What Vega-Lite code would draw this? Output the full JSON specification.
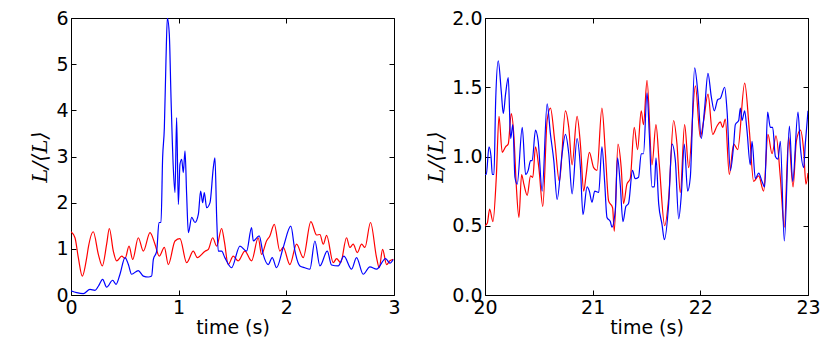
{
  "$schema": "https://vega.github.io/schema/vega-lite/v6.json",
  "background": "white",
  "padding": {"left": 29, "top": 8, "right": 4, "bottom": 4},
  "config": {
    "view": {"stroke": "black", "strokeWidth": 1},
    "axis": {
      "domain": false, "grid": false, "ticks": true, "tickColor": "black", "tickSize": -5, "tickWidth": 1,
      "labelFont": "DejaVu Sans", "labelFontSize": 19, "labelColor": "black", "labelPadding": 8,
      "labelFlush": false, "labelOverlap": false,
      "titleFont": "DejaVu Sans", "titleFontSize": 19, "titleFontWeight": "normal", "titleColor": "black"
    }
  },
  "datasets": {
    "left": [
      {"t":0.000,"v":1.37,"s":"r"},{"t":0.037,"v":1.24,"s":"r"},{"t":0.068,"v":0.81,"s":"r"},{"t":0.105,"v":0.41,"s":"r"},{"t":0.146,"v":0.81,"s":"r"},{"t":0.161,"v":1.03,"s":"r"},{"t":0.207,"v":1.37,"s":"r"},{"t":0.254,"v":0.88,"s":"r"},{"t":0.291,"v":0.63,"s":"r"},{"t":0.331,"v":1.10,"s":"r"},{"t":0.356,"v":1.44,"s":"r"},{"t":0.393,"v":0.95,"s":"r"},{"t":0.424,"v":0.74,"s":"r"},{"t":0.471,"v":0.84,"s":"r"},{"t":0.502,"v":0.79,"s":"r"},{"t":0.539,"v":1.06,"s":"r"},{"t":0.573,"v":0.77,"s":"r"},{"t":0.625,"v":1.24,"s":"r"},{"t":0.672,"v":0.95,"s":"r"},{"t":0.734,"v":1.35,"s":"r"},{"t":0.780,"v":1.10,"s":"r"},{"t":0.820,"v":0.84,"s":"r"},{"t":0.867,"v":1.03,"s":"r"},{"t":0.904,"v":0.66,"s":"r"},{"t":0.966,"v":1.17,"s":"r"},{"t":1.012,"v":1.22,"s":"r"},{"t":1.074,"v":0.70,"s":"r"},{"t":1.136,"v":0.95,"s":"r"},{"t":1.173,"v":0.81,"s":"r"},{"t":1.245,"v":0.95,"s":"r"},{"t":1.276,"v":0.99,"s":"r"},{"t":1.316,"v":1.24,"s":"r"},{"t":1.353,"v":1.06,"s":"r"},{"t":1.399,"v":1.44,"s":"r"},{"t":1.425,"v":1.15,"s":"r"},{"t":1.460,"v":0.66,"s":"r"},{"t":1.507,"v":0.84,"s":"r"},{"t":1.553,"v":0.74,"s":"r"},{"t":1.615,"v":0.95,"s":"r"},{"t":1.677,"v":0.74,"s":"r"},{"t":1.739,"v":1.24,"s":"r"},{"t":1.770,"v":0.88,"s":"r"},{"t":1.816,"v":1.17,"s":"r"},{"t":1.847,"v":1.28,"s":"r"},{"t":1.888,"v":1.53,"s":"r"},{"t":1.940,"v":0.95,"s":"r"},{"t":1.971,"v":1.03,"s":"r"},{"t":2.033,"v":0.66,"s":"r"},{"t":2.095,"v":1.10,"s":"r"},{"t":2.157,"v":0.81,"s":"r"},{"t":2.228,"v":1.59,"s":"r"},{"t":2.281,"v":1.30,"s":"r"},{"t":2.312,"v":1.31,"s":"r"},{"t":2.343,"v":1.10,"s":"r"},{"t":2.374,"v":1.29,"s":"r"},{"t":2.436,"v":0.70,"s":"r"},{"t":2.467,"v":0.79,"s":"r"},{"t":2.504,"v":0.70,"s":"r"},{"t":2.559,"v":1.24,"s":"r"},{"t":2.590,"v":1.03,"s":"r"},{"t":2.621,"v":1.10,"s":"r"},{"t":2.659,"v":0.92,"s":"r"},{"t":2.699,"v":1.10,"s":"r"},{"t":2.730,"v":1.03,"s":"r"},{"t":2.782,"v":1.57,"s":"r"},{"t":2.838,"v":0.81,"s":"r"},{"t":2.863,"v":0.59,"s":"r"},{"t":2.894,"v":0.99,"s":"r"},{"t":2.931,"v":0.66,"s":"r"},{"t":2.962,"v":0.74,"s":"r"},{"t":2.993,"v":0.77,"s":"r"},
      {"t":0.000,"v":0.09,"s":"b"},{"t":0.053,"v":0.05,"s":"b"},{"t":0.115,"v":0.03,"s":"b"},{"t":0.176,"v":0.12,"s":"b"},{"t":0.223,"v":0.10,"s":"b"},{"t":0.254,"v":0.19,"s":"b"},{"t":0.294,"v":0.34,"s":"b"},{"t":0.331,"v":0.17,"s":"b"},{"t":0.387,"v":0.32,"s":"b"},{"t":0.418,"v":0.23,"s":"b"},{"t":0.455,"v":0.45,"s":"b"},{"t":0.502,"v":0.81,"s":"b"},{"t":0.533,"v":0.66,"s":"b"},{"t":0.563,"v":0.45,"s":"b"},{"t":0.625,"v":0.53,"s":"b"},{"t":0.672,"v":0.41,"s":"b"},{"t":0.718,"v":0.39,"s":"b"},{"t":0.749,"v":0.41,"s":"b"},{"t":0.765,"v":0.77,"s":"b"},{"t":0.796,"v":0.95,"s":"b"},{"t":0.817,"v":1.57,"s":"b"},{"t":0.836,"v":1.57,"s":"b"},{"t":0.851,"v":2.97,"s":"b"},{"t":0.867,"v":3.62,"s":"b"},{"t":0.882,"v":5.07,"s":"b"},{"t":0.895,"v":6.00,"s":"b"},{"t":0.913,"v":5.65,"s":"b"},{"t":0.929,"v":4.27,"s":"b"},{"t":0.950,"v":2.76,"s":"b"},{"t":0.966,"v":2.22,"s":"b"},{"t":0.981,"v":3.84,"s":"b"},{"t":0.997,"v":1.96,"s":"b"},{"t":1.012,"v":2.83,"s":"b"},{"t":1.028,"v":2.94,"s":"b"},{"t":1.043,"v":2.65,"s":"b"},{"t":1.059,"v":3.12,"s":"b"},{"t":1.074,"v":2.18,"s":"b"},{"t":1.090,"v":1.35,"s":"b"},{"t":1.121,"v":1.68,"s":"b"},{"t":1.152,"v":1.57,"s":"b"},{"t":1.183,"v":1.75,"s":"b"},{"t":1.204,"v":2.25,"s":"b"},{"t":1.223,"v":2.00,"s":"b"},{"t":1.238,"v":2.22,"s":"b"},{"t":1.260,"v":1.89,"s":"b"},{"t":1.291,"v":2.00,"s":"b"},{"t":1.322,"v":2.76,"s":"b"},{"t":1.337,"v":2.97,"s":"b"},{"t":1.353,"v":1.68,"s":"b"},{"t":1.368,"v":0.95,"s":"b"},{"t":1.399,"v":0.95,"s":"b"},{"t":1.429,"v":0.81,"s":"b"},{"t":1.491,"v":0.59,"s":"b"},{"t":1.569,"v":1.06,"s":"b"},{"t":1.631,"v":0.95,"s":"b"},{"t":1.677,"v":1.46,"s":"b"},{"t":1.693,"v":1.17,"s":"b"},{"t":1.748,"v":1.28,"s":"b"},{"t":1.785,"v":0.88,"s":"b"},{"t":1.832,"v":0.66,"s":"b"},{"t":1.869,"v":0.81,"s":"b"},{"t":1.909,"v":0.59,"s":"b"},{"t":1.971,"v":1.03,"s":"b"},{"t":2.042,"v":1.49,"s":"b"},{"t":2.080,"v":0.95,"s":"b"},{"t":2.126,"v":0.63,"s":"b"},{"t":2.172,"v":0.59,"s":"b"},{"t":2.219,"v":0.56,"s":"b"},{"t":2.265,"v":1.17,"s":"b"},{"t":2.312,"v":0.63,"s":"b"},{"t":2.380,"v":0.95,"s":"b"},{"t":2.420,"v":0.65,"s":"b"},{"t":2.482,"v":0.63,"s":"b"},{"t":2.535,"v":0.84,"s":"b"},{"t":2.606,"v":0.56,"s":"b"},{"t":2.652,"v":0.81,"s":"b"},{"t":2.714,"v":0.45,"s":"b"},{"t":2.776,"v":0.61,"s":"b"},{"t":2.838,"v":0.56,"s":"b"},{"t":2.922,"v":0.79,"s":"b"},{"t":2.962,"v":0.69,"s":"b"},{"t":2.993,"v":0.77,"s":"b"}
    ],
    "right": [
      {"t":20.000,"v":0.50,"s":"r"},{"t":20.022,"v":0.52,"s":"r"},{"t":20.043,"v":0.62,"s":"r"},{"t":20.074,"v":0.53,"s":"r"},{"t":20.105,"v":0.85,"s":"r"},{"t":20.130,"v":1.29,"s":"r"},{"t":20.160,"v":1.03,"s":"r"},{"t":20.191,"v":1.07,"s":"r"},{"t":20.216,"v":1.09,"s":"r"},{"t":20.244,"v":1.31,"s":"r"},{"t":20.269,"v":1.14,"s":"r"},{"t":20.290,"v":0.80,"s":"r"},{"t":20.315,"v":0.56,"s":"r"},{"t":20.340,"v":0.87,"s":"r"},{"t":20.361,"v":0.80,"s":"r"},{"t":20.392,"v":0.72,"s":"r"},{"t":20.423,"v":0.86,"s":"r"},{"t":20.444,"v":0.85,"s":"r"},{"t":20.469,"v":1.07,"s":"r"},{"t":20.500,"v":0.92,"s":"r"},{"t":20.537,"v":0.64,"s":"r"},{"t":20.577,"v":1.26,"s":"r"},{"t":20.608,"v":1.35,"s":"r"},{"t":20.648,"v":1.11,"s":"r"},{"t":20.691,"v":0.82,"s":"r"},{"t":20.747,"v":1.33,"s":"r"},{"t":20.778,"v":1.21,"s":"r"},{"t":20.809,"v":0.94,"s":"r"},{"t":20.855,"v":1.29,"s":"r"},{"t":20.886,"v":1.09,"s":"r"},{"t":20.917,"v":0.75,"s":"r"},{"t":20.938,"v":0.86,"s":"r"},{"t":20.969,"v":1.03,"s":"r"},{"t":21.009,"v":0.92,"s":"r"},{"t":21.040,"v":0.90,"s":"r"},{"t":21.086,"v":1.35,"s":"r"},{"t":21.117,"v":1.04,"s":"r"},{"t":21.148,"v":0.68,"s":"r"},{"t":21.185,"v":0.63,"s":"r"},{"t":21.201,"v":0.46,"s":"r"},{"t":21.235,"v":1.09,"s":"r"},{"t":21.265,"v":0.92,"s":"r"},{"t":21.287,"v":0.66,"s":"r"},{"t":21.318,"v":0.80,"s":"r"},{"t":21.349,"v":0.84,"s":"r"},{"t":21.386,"v":1.21,"s":"r"},{"t":21.417,"v":1.05,"s":"r"},{"t":21.451,"v":1.33,"s":"r"},{"t":21.472,"v":1.23,"s":"r"},{"t":21.505,"v":1.55,"s":"r"},{"t":21.551,"v":0.94,"s":"r"},{"t":21.588,"v":1.23,"s":"r"},{"t":21.619,"v":0.94,"s":"r"},{"t":21.669,"v":0.50,"s":"r"},{"t":21.706,"v":0.70,"s":"r"},{"t":21.752,"v":1.26,"s":"r"},{"t":21.783,"v":1.09,"s":"r"},{"t":21.814,"v":0.74,"s":"r"},{"t":21.854,"v":1.23,"s":"r"},{"t":21.892,"v":0.92,"s":"r"},{"t":21.954,"v":1.51,"s":"r"},{"t":22.000,"v":1.14,"s":"r"},{"t":22.031,"v":1.26,"s":"r"},{"t":22.071,"v":1.45,"s":"r"},{"t":22.115,"v":1.16,"s":"r"},{"t":22.155,"v":1.22,"s":"r"},{"t":22.186,"v":1.25,"s":"r"},{"t":22.207,"v":1.21,"s":"r"},{"t":22.232,"v":1.27,"s":"r"},{"t":22.269,"v":0.87,"s":"r"},{"t":22.310,"v":1.09,"s":"r"},{"t":22.347,"v":1.05,"s":"r"},{"t":22.412,"v":1.53,"s":"r"},{"t":22.455,"v":1.19,"s":"r"},{"t":22.495,"v":0.82,"s":"r"},{"t":22.542,"v":0.86,"s":"r"},{"t":22.588,"v":0.75,"s":"r"},{"t":22.628,"v":1.16,"s":"r"},{"t":22.666,"v":1.02,"s":"r"},{"t":22.703,"v":1.15,"s":"r"},{"t":22.743,"v":0.85,"s":"r"},{"t":22.780,"v":0.49,"s":"r"},{"t":22.820,"v":1.14,"s":"r"},{"t":22.861,"v":0.78,"s":"r"},{"t":22.892,"v":1.11,"s":"r"},{"t":22.929,"v":1.19,"s":"r"},{"t":22.960,"v":1.04,"s":"r"},{"t":22.981,"v":0.80,"s":"r"},{"t":23.000,"v":0.88,"s":"r"},
      {"t":20.000,"v":0.87,"s":"b"},{"t":20.012,"v":0.87,"s":"b"},{"t":20.037,"v":1.07,"s":"b"},{"t":20.056,"v":1.00,"s":"b"},{"t":20.068,"v":0.87,"s":"b"},{"t":20.083,"v":0.87,"s":"b"},{"t":20.099,"v":1.40,"s":"b"},{"t":20.123,"v":1.69,"s":"b"},{"t":20.151,"v":1.47,"s":"b"},{"t":20.170,"v":1.31,"s":"b"},{"t":20.191,"v":1.45,"s":"b"},{"t":20.216,"v":1.57,"s":"b"},{"t":20.238,"v":1.13,"s":"b"},{"t":20.259,"v":1.23,"s":"b"},{"t":20.278,"v":0.85,"s":"b"},{"t":20.299,"v":0.80,"s":"b"},{"t":20.346,"v":1.21,"s":"b"},{"t":20.377,"v":0.87,"s":"b"},{"t":20.401,"v":0.90,"s":"b"},{"t":20.423,"v":0.97,"s":"b"},{"t":20.438,"v":0.97,"s":"b"},{"t":20.469,"v":1.19,"s":"b"},{"t":20.494,"v":1.11,"s":"b"},{"t":20.531,"v":0.75,"s":"b"},{"t":20.577,"v":1.38,"s":"b"},{"t":20.608,"v":1.16,"s":"b"},{"t":20.639,"v":0.97,"s":"b"},{"t":20.670,"v":0.69,"s":"b"},{"t":20.716,"v":1.02,"s":"b"},{"t":20.747,"v":1.16,"s":"b"},{"t":20.778,"v":1.02,"s":"b"},{"t":20.809,"v":0.73,"s":"b"},{"t":20.855,"v":1.13,"s":"b"},{"t":20.886,"v":0.92,"s":"b"},{"t":20.910,"v":0.58,"s":"b"},{"t":20.948,"v":0.78,"s":"b"},{"t":20.969,"v":0.75,"s":"b"},{"t":20.994,"v":0.67,"s":"b"},{"t":21.019,"v":0.75,"s":"b"},{"t":21.056,"v":0.74,"s":"b"},{"t":21.086,"v":1.07,"s":"b"},{"t":21.111,"v":0.82,"s":"b"},{"t":21.133,"v":0.56,"s":"b"},{"t":21.164,"v":0.53,"s":"b"},{"t":21.179,"v":0.49,"s":"b"},{"t":21.210,"v":0.61,"s":"b"},{"t":21.231,"v":0.99,"s":"b"},{"t":21.256,"v":0.80,"s":"b"},{"t":21.281,"v":0.53,"s":"b"},{"t":21.309,"v":0.64,"s":"b"},{"t":21.333,"v":0.66,"s":"b"},{"t":21.370,"v":0.90,"s":"b"},{"t":21.395,"v":0.84,"s":"b"},{"t":21.426,"v":0.85,"s":"b"},{"t":21.451,"v":1.02,"s":"b"},{"t":21.472,"v":1.02,"s":"b"},{"t":21.505,"v":1.46,"s":"b"},{"t":21.526,"v":1.16,"s":"b"},{"t":21.551,"v":0.78,"s":"b"},{"t":21.573,"v":0.78,"s":"b"},{"t":21.588,"v":0.99,"s":"b"},{"t":21.613,"v":0.66,"s":"b"},{"t":21.644,"v":0.51,"s":"b"},{"t":21.666,"v":0.40,"s":"b"},{"t":21.706,"v":0.66,"s":"b"},{"t":21.737,"v":1.09,"s":"b"},{"t":21.768,"v":0.97,"s":"b"},{"t":21.799,"v":0.55,"s":"b"},{"t":21.824,"v":0.73,"s":"b"},{"t":21.851,"v":1.09,"s":"b"},{"t":21.882,"v":0.75,"s":"b"},{"t":21.907,"v":0.85,"s":"b"},{"t":21.947,"v":1.64,"s":"b"},{"t":21.978,"v":1.45,"s":"b"},{"t":22.009,"v":1.13,"s":"b"},{"t":22.040,"v":1.35,"s":"b"},{"t":22.071,"v":1.60,"s":"b"},{"t":22.102,"v":1.43,"s":"b"},{"t":22.130,"v":1.33,"s":"b"},{"t":22.161,"v":1.41,"s":"b"},{"t":22.186,"v":1.42,"s":"b"},{"t":22.226,"v":1.50,"s":"b"},{"t":22.248,"v":1.33,"s":"b"},{"t":22.279,"v":0.90,"s":"b"},{"t":22.310,"v":1.09,"s":"b"},{"t":22.325,"v":1.23,"s":"b"},{"t":22.356,"v":1.26,"s":"b"},{"t":22.372,"v":1.35,"s":"b"},{"t":22.387,"v":1.26,"s":"b"},{"t":22.412,"v":1.33,"s":"b"},{"t":22.433,"v":1.19,"s":"b"},{"t":22.464,"v":0.94,"s":"b"},{"t":22.480,"v":1.11,"s":"b"},{"t":22.511,"v":0.84,"s":"b"},{"t":22.542,"v":0.88,"s":"b"},{"t":22.573,"v":0.82,"s":"b"},{"t":22.598,"v":0.78,"s":"b"},{"t":22.625,"v":1.32,"s":"b"},{"t":22.650,"v":1.21,"s":"b"},{"t":22.672,"v":1.21,"s":"b"},{"t":22.697,"v":1.00,"s":"b"},{"t":22.721,"v":0.98,"s":"b"},{"t":22.743,"v":1.11,"s":"b"},{"t":22.780,"v":0.39,"s":"b"},{"t":22.827,"v":1.22,"s":"b"},{"t":22.858,"v":0.82,"s":"b"},{"t":22.907,"v":1.32,"s":"b"},{"t":22.929,"v":1.07,"s":"b"},{"t":22.960,"v":0.92,"s":"b"},{"t":22.975,"v":1.09,"s":"b"},{"t":23.000,"v":1.33,"s":"b"}
    ]
  },
  "bounds": "flush",
  "spacing": 91,
  "hconcat": [
    {
      "data": {"name": "left"},
      "width": 323, "height": 277,
      "layer": [
        {
          "mark": {"type": "line", "strokeWidth": 1.2, "clip": true, "interpolate": "monotone"},
          "encoding": {
            "x": {"field": "t", "type": "quantitative", "scale": {"domain": [0, 3], "nice": false}, "axis": {"values": [0, 1, 2, 3], "format": "d", "title": "time (s)", "titlePadding": 1, "labelFontSize": 19, "titleFontSize": 19}},
            "y": {"field": "v", "type": "quantitative", "scale": {"domain": [0, 6], "nice": false}, "axis": {"values": [0, 1, 2, 3, 4, 5, 6], "format": "d", "title": "L/⟨L⟩", "titleFont": "DejaVu Serif", "titleFontStyle": "italic", "titlePadding": 5, "labelFontSize": 19, "titleFontSize": 21}},
            "color": {"field": "s", "type": "nominal", "scale": {"domain": ["r", "b"], "range": ["#ff0000", "#0000ff"]}, "legend": null}
          }
        },
        {
          "mark": {"type": "line", "opacity": 0},
          "encoding": {
            "x": {"field": "t", "type": "quantitative", "axis": {"orient": "top", "values": [0, 1, 2, 3], "labels": false, "title": null}},
            "y": {"field": "v", "type": "quantitative", "axis": {"orient": "right", "values": [0, 1, 2, 3, 4, 5, 6], "labels": false, "title": null}}
          }
        }
      ],
      "resolve": {"axis": {"x": "independent", "y": "independent"}}
    },
    {
      "data": {"name": "right"},
      "width": 323, "height": 277,
      "layer": [
        {
          "mark": {"type": "line", "strokeWidth": 1.2, "clip": true, "interpolate": "monotone"},
          "encoding": {
            "x": {"field": "t", "type": "quantitative", "scale": {"domain": [20, 23], "nice": false, "zero": false}, "axis": {"values": [20, 21, 22, 23], "format": "d", "title": "time (s)", "titlePadding": 1, "labelFontSize": 19, "titleFontSize": 19}},
            "y": {"field": "v", "type": "quantitative", "scale": {"domain": [0, 2], "nice": false}, "axis": {"values": [0, 0.5, 1, 1.5, 2], "format": ".1f", "title": "L/⟨L⟩", "titleFont": "DejaVu Serif", "titleFontStyle": "italic", "titlePadding": 5, "labelFontSize": 19, "titleFontSize": 21}},
            "color": {"field": "s", "type": "nominal", "scale": {"domain": ["r", "b"], "range": ["#ff0000", "#0000ff"]}, "legend": null}
          }
        },
        {
          "mark": {"type": "line", "opacity": 0},
          "encoding": {
            "x": {"field": "t", "type": "quantitative", "axis": {"orient": "top", "values": [20, 21, 22, 23], "labels": false, "title": null}},
            "y": {"field": "v", "type": "quantitative", "axis": {"orient": "right", "values": [0, 0.5, 1, 1.5, 2], "labels": false, "title": null}}
          }
        }
      ],
      "resolve": {"axis": {"x": "independent", "y": "independent"}}
    }
  ]
}
